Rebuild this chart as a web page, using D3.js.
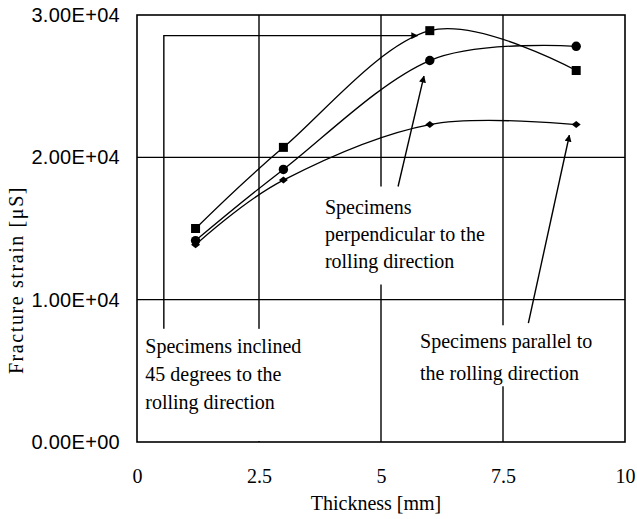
<!DOCTYPE html>
<html>
<head>
<meta charset="utf-8">
<script src="https://cdn.jsdelivr.net/npm/d3@7/dist/d3.min.js"></script>
<style>
  html, body { margin: 0; padding: 0; background: #fff; }
  svg { display: block; }
</style>
</head>
<body>
<svg id="chart" width="637" height="519"></svg>
<script>
// Thickness of specimens [mm]
const thickness = [1.2, 3, 6, 9];

// Fracture strain [µS] for each specimen orientation
const inclined45    = [15000, 20700, 28900, 26100]; // squares
const perpendicular = [14150, 19150, 26800, 27800]; // circles
const parallel      = [13850, 18400, 22300, 22300]; // diamonds

const xTicks = [0, 2.5, 5, 7.5, 10];
const xTickLabels = ["0", "2.5", "5", "7.5", "10"];
const yTicks = [0, 10000, 20000, 30000];
const yTickLabels = ["0.00E+00", "1.00E+04", "2.00E+04", "3.00E+04"];

const xTitle = "Thickness [mm]";
const yTitle = "Fracture strain [\u03bcS]";

const labelInclined = ["Specimens inclined", "45 degrees to the", "rolling direction"];
const labelPerp = ["Specimens", "perpendicular to the", "rolling direction"];
const labelParallel = ["Specimens parallel to", "the rolling direction"];

const svg = d3.select("#chart");
const x = d3.scaleLinear().domain([0, 10]).range([137, 625]);
const y = d3.scaleLinear().domain([0, 30000]).range([442, 15]);

const serif = "'Liberation Serif', 'Times New Roman', serif";
const sans = "'Liberation Sans', Arial, sans-serif";

// arrowhead marker
svg.append("defs").append("marker")
  .attr("id", "head")
  .attr("viewBox", "0 0 10 10")
  .attr("refX", 9).attr("refY", 5)
  .attr("markerWidth", 7).attr("markerHeight", 7)
  .attr("markerUnits", "userSpaceOnUse")
  .attr("orient", "auto")
  .append("path").attr("d", "M0,0 L10,5 L0,10 Z").attr("fill", "#000");

// grid lines
const grid = svg.append("g").attr("stroke", "#000").attr("stroke-width", 1.4);
grid.selectAll("line.v").data(xTicks.slice(1, -1)).join("line")
  .attr("x1", d => x(d)).attr("x2", d => x(d))
  .attr("y1", y(30000)).attr("y2", y(0));
grid.selectAll("line.h").data(yTicks.slice(1, -1)).join("line")
  .attr("x1", x(0)).attr("x2", x(10))
  .attr("y1", d => y(d)).attr("y2", d => y(d));

// plot frame
svg.append("rect")
  .attr("x", x(0)).attr("y", y(30000))
  .attr("width", x(10) - x(0)).attr("height", y(0) - y(30000))
  .attr("fill", "none").attr("stroke", "#000").attr("stroke-width", 1.6);

// axes (labels only; frame drawn above)
const xAxis = svg.append("g").attr("transform", `translate(0,${y(0)})`)
  .call(d3.axisBottom(x).tickValues(xTicks).tickSize(0).tickPadding(27)
    .tickFormat((d, i) => xTickLabels[i]));
xAxis.select(".domain").remove();
xAxis.selectAll("text").attr("font-family", serif).attr("font-size", 20).attr("fill", "#000");

const yAxis = svg.append("g").attr("transform", `translate(${x(0)},0)`)
  .call(d3.axisLeft(y).tickValues(yTicks).tickSize(0).tickPadding(17)
    .tickFormat((d, i) => yTickLabels[i]));
yAxis.select(".domain").remove();
yAxis.selectAll("text").attr("font-family", sans).attr("font-size", 20)
  .attr("letter-spacing", 0.3).attr("fill", "#000");

// axis titles
svg.append("text").attr("x", 376).attr("y", 510).attr("text-anchor", "middle")
  .attr("font-family", serif).attr("font-size", 20).text(xTitle);
svg.append("text").attr("transform", "translate(23,280) rotate(-90)")
  .attr("text-anchor", "middle").attr("font-family", serif).attr("font-size", 20)
  .attr("letter-spacing", 1.6).text(yTitle);

// text annotation blocks with white backgrounds
function note(lines, px, py, lineH, box) {
  svg.append("rect").attr("x", box[0]).attr("y", box[1])
    .attr("width", box[2]).attr("height", box[3]).attr("fill", "#fff");
  const t = svg.append("text").attr("font-family", serif).attr("font-size", 20)
    .attr("fill", "#000");
  lines.forEach((s, i) => t.append("tspan").attr("x", px).attr("y", py + i * lineH).text(s));
}
note(labelInclined, x(0.17), y(6270), 28, [x(0.1), y(7950), 172, y(0) - y(7950) - 1]);
note(labelPerp, x(3.85), y(16050), 27, [x(3.75), y(17950), 165, 98]);
note(labelParallel, x(5.8), y(6600), 32, [x(5.7), y(8200), 200, 61]);

// curves
const line = d3.line().x(d => x(d[0])).y(d => y(d[1])).curve(d3.curveCatmullRom.alpha(0));
[inclined45, perpendicular, parallel].forEach(vals => {
  svg.append("path").datum(thickness.map((t, i) => [t, vals[i]]))
    .attr("d", line).attr("fill", "none").attr("stroke", "#000").attr("stroke-width", 1.3);
});

// markers
svg.selectAll("rect.sq").data(thickness.map((t, i) => [t, inclined45[i]])).join("rect")
  .attr("x", d => x(d[0]) - 4.5).attr("y", d => y(d[1]) - 4.5)
  .attr("width", 9).attr("height", 9).attr("fill", "#000");
svg.selectAll("circle.ci").data(thickness.map((t, i) => [t, perpendicular[i]])).join("circle")
  .attr("cx", d => x(d[0])).attr("cy", d => y(d[1])).attr("r", 4.7).attr("fill", "#000");
svg.selectAll("path.di").data(thickness.map((t, i) => [t, parallel[i]])).join("path")
  .attr("transform", d => `translate(${x(d[0])},${y(d[1])})`)
  .attr("d", "M-4.5,0 L0,-3.5 L4.5,0 L0,3.5 Z").attr("fill", "#000");

// leader arrows
const arrows = svg.append("g").attr("stroke", "#000").attr("stroke-width", 1.4).attr("fill", "none");
arrows.append("path")
  .attr("d", `M${x(0.55)},${y(7950)} L${x(0.55)},${y(28550)} L${x(5.75)},${y(28550)}`)
  .attr("marker-end", "url(#head)");
arrows.append("path")
  .attr("d", `M${x(5.35)},${y(17950)} L${x(5.88)},${y(25700)}`)
  .attr("marker-end", "url(#head)");
arrows.append("path")
  .attr("d", `M${x(8.02)},${y(8350)} L${x(8.86)},${y(21550)}`)
  .attr("marker-end", "url(#head)");
</script>
</body>
</html>
